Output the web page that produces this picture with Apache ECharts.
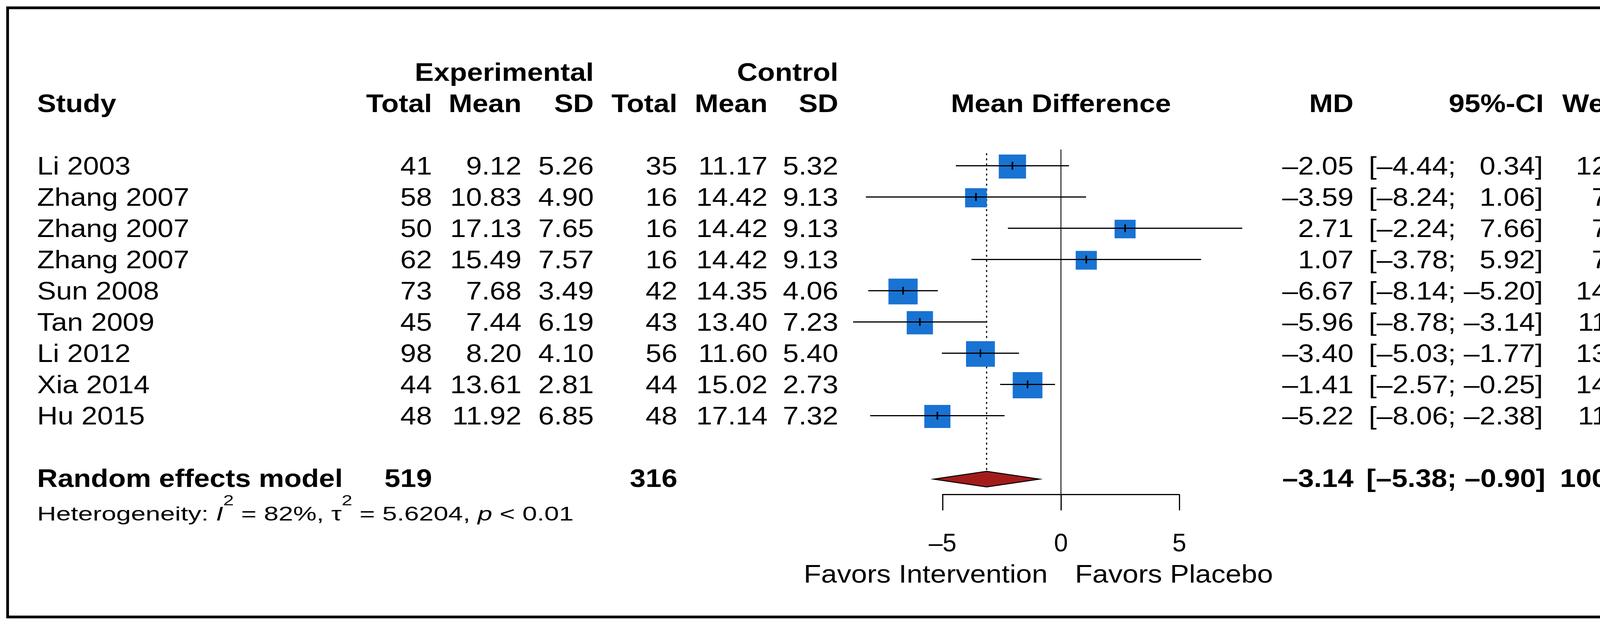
<!DOCTYPE html>
<html>
<head>
<meta charset="utf-8">
<script src="https://cdn.jsdelivr.net/npm/echarts@6/dist/echarts.min.js"></script>
<style>
html,body{margin:0;padding:0;background:#fff;}
#c{width:4383px;height:1598px;}
</style>
</head>
<body>
<div id="c"></div>
<script>
// ---------------- data ----------------
const studies   = ['Li 2003','Zhang 2007','Zhang 2007','Zhang 2007','Sun 2008','Tan 2009','Li 2012','Xia 2014','Hu 2015'];
const expTotal  = [41, 58, 50, 62, 73, 45, 98, 44, 48];
const expMean   = [9.12, 10.83, 17.13, 15.49, 7.68, 7.44, 8.20, 13.61, 11.92];
const expSD     = [5.26, 4.90, 7.65, 7.57, 3.49, 6.19, 4.10, 2.81, 6.85];
const ctlTotal  = [35, 16, 16, 16, 42, 43, 56, 44, 48];
const ctlMean   = [11.17, 14.42, 14.42, 14.42, 14.35, 13.40, 11.60, 15.02, 17.14];
const ctlSD     = [5.32, 9.13, 9.13, 9.13, 4.06, 7.23, 5.40, 2.73, 7.32];
const md        = [-2.05, -3.59, 2.71, 1.07, -6.67, -5.96, -3.40, -1.41, -5.22];
const ciLow     = [-4.44, -8.24, -2.24, -3.78, -8.14, -8.78, -5.03, -2.57, -8.06];
const ciHigh    = [0.34, 1.06, 7.66, 5.92, -5.20, -3.14, -1.77, -0.25, -2.38];
const weight    = [12.3, 7.8, 7.3, 7.4, 14.1, 11.4, 13.8, 14.6, 11.3];
const pooledLabel  = 'Random effects model';
const pooledTotals = [519, 316];
const pooledMD     = -3.14;
const pooledCI     = [-5.38, -0.90];
const pooledWeight = 100.0;
const heterogeneity = { I2: '82%', tau2: '5.6204', p: '< 0.01' };
const xTicks = [-5, 0, 5];
const headerTop = ['Experimental', 'Control'];
const headerCols = ['Study', 'Total', 'Mean', 'SD', 'Total', 'Mean', 'SD', 'Mean Difference', 'MD', '95%-CI', 'Weight'];
const favorsLabels = ['Favors Intervention', 'Favors Placebo'];

// ---------------- layout / style ----------------
const FONT = '"Liberation Sans", Arial, Helvetica, sans-serif';
const SX = 1.14;           // horizontal stretch of the source picture
const SX_HET = 1.35;
const FS = 64;             // main font size
const DASH = '\u2013';
const BOX_COLOR = '#1873d3';
const DIAMOND_COLOR = '#a31c1c';
const BOX_W = 19.9, BOX_H = 17.6;   // px per sqrt(weight %)
const TEXT_DY = 4.5;
const COL = { study: 95, expTotal: 1106, expMean: 1335, expSD: 1520, ctlTotal: 1734, ctlMean: 1965,
              ctlSD: 2146, md: 3465, ci: 3727, ciHead: 3952, weight: 4241 };
const SUMMARY_ROW = 10, HET_ROW = 11, FAVORS_ROW = 13;

function fmt(v, d) { return (v < 0 ? DASH : '') + Math.abs(v).toFixed(d); }
function ciText(lo, hi) { return '[' + (lo < 0 ? '' : ' ') + fmt(lo, 2) + '; ' + (hi < 0 ? '' : '  ') + fmt(hi, 2) + ']'; }

const B = 'bold', N = 'normal';
// each row: row index + list of cells [x, text, align, weight]
const tableRows = [];
tableRows.push({ row: -3, cells: [[COL.expSD, headerTop[0], 'right', B], [COL.ctlSD, headerTop[1], 'right', B]] });
tableRows.push({ row: -2, cells: [
  [COL.study, headerCols[0], 'left', B], [COL.expTotal, headerCols[1], 'right', B], [COL.expMean, headerCols[2], 'right', B],
  [COL.expSD, headerCols[3], 'right', B], [COL.ctlTotal, headerCols[4], 'right', B], [COL.ctlMean, headerCols[5], 'right', B],
  [COL.ctlSD, headerCols[6], 'right', B], ['zero', headerCols[7], 'center', B], [COL.md, headerCols[8], 'right', B],
  [COL.ciHead, headerCols[9], 'right', B], [COL.weight, headerCols[10], 'right', B]] });
studies.forEach(function (s, i) {
  tableRows.push({ row: i, cells: [
    [COL.study, s, 'left', N], [COL.expTotal, String(expTotal[i]), 'right', N], [COL.expMean, expMean[i].toFixed(2), 'right', N],
    [COL.expSD, expSD[i].toFixed(2), 'right', N], [COL.ctlTotal, String(ctlTotal[i]), 'right', N], [COL.ctlMean, ctlMean[i].toFixed(2), 'right', N],
    [COL.ctlSD, ctlSD[i].toFixed(2), 'right', N], [COL.md, fmt(md[i], 2), 'right', N], [COL.ci, ciText(ciLow[i], ciHigh[i]), 'center', N],
    [COL.weight, weight[i].toFixed(1) + '%', 'right', N]] });
});
tableRows.push({ row: SUMMARY_ROW, cells: [
  [COL.study, pooledLabel, 'left', B], [COL.expTotal, String(pooledTotals[0]), 'right', B], [COL.ctlTotal, String(pooledTotals[1]), 'right', B],
  [COL.md, fmt(pooledMD, 2), 'right', B], [COL.ci, ciText(pooledCI[0], pooledCI[1]), 'center', B], [COL.weight, pooledWeight.toFixed(1) + '%', 'right', B]] });
tableRows.push({ row: FAVORS_ROW, dy: 5, cells: [['zeroL', favorsLabels[0], 'right', N], ['zeroR', favorsLabels[1], 'left', N]] });
tableRows.push({ row: HET_ROW, het: true, cells: [] });

function txt(x, y, text, align, fw) {
  return { type: 'text', x: x, y: y, scaleX: SX, scaleY: 1,
    style: { text: text, fill: '#000', fontSize: FS, fontFamily: FONT, fontWeight: fw, align: align, verticalAlign: 'middle' } };
}

const chart = echarts.init(document.getElementById('c'), null, { renderer: 'canvas' });

const GRID_TOP = 24.5, GRID_H = 1241.5; // rows are 80px apart; row 0 sits at y = 424.5
const option = {
  animation: false,
  backgroundColor: '#fff',
  grid: { left: 2413, top: GRID_TOP, width: 606, height: GRID_H, containLabel: false },
  xAxis: {
    type: 'value', min: xTicks[0], max: xTicks[xTicks.length - 1], interval: 5,
    axisLine: { show: true, onZero: false, lineStyle: { color: '#000', width: 3 } },
    axisTick: { show: true, length: 41, lineStyle: { color: '#000', width: 3 } },
    axisLabel: { show: true, fontSize: FS, fontFamily: FONT, color: '#000', margin: 96,
      formatter: function (v) { return v < 0 ? DASH + Math.abs(v) : String(v); } },
    splitLine: { show: false }
  },
  yAxis: {
    type: 'value', inverse: true, min: -5, max: -5 + GRID_H / 80, show: false,
    splitLine: { show: false }
  },
  series: [
    { // line of no effect
      type: 'line', data: [[0, -0.52], [0, 10.52]], symbol: 'none', silent: true, z: 1,
      lineStyle: { color: '#3a3a3a', width: 3 }
    },
    { // pooled estimate dashed line
      type: 'line', data: [[pooledMD, -0.4], [pooledMD, 9.75]], symbol: 'none', silent: true, z: 1,
      lineStyle: { color: '#000', width: 3, type: [5, 8] }
    },
    { // study boxes + CIs
      type: 'custom', clip: false, z: 3,
      data: md.map(function (m, i) { return [m, i, ciLow[i], ciHigh[i], weight[i]]; }),
      renderItem: function (params, api) {
        const r = api.value(1);
        const c = api.coord([api.value(0), r]);
        const l = api.coord([api.value(2), r]);
        const h = api.coord([api.value(3), r]);
        const s = Math.sqrt(api.value(4));
        const bw = BOX_W * s, bh = BOX_H * s;
        return { type: 'group', children: [
          { type: 'rect', shape: { x: c[0] - bw / 2, y: c[1] - bh / 2 + 2, width: bw, height: bh }, style: { fill: BOX_COLOR } },
          { type: 'line', shape: { x1: l[0], y1: l[1], x2: h[0], y2: h[1] }, style: { stroke: '#000', lineWidth: 3 } },
          { type: 'line', shape: { x1: c[0], y1: c[1] - 10, x2: c[0], y2: c[1] + 10 }, style: { stroke: '#000', lineWidth: 4 } }
        ] };
      }
    },
    { // pooled diamond
      type: 'custom', clip: false, z: 3,
      data: [[pooledMD, SUMMARY_ROW + 0.03, pooledCI[0], pooledCI[1]]],
      renderItem: function (params, api) {
        const r = api.value(1), m = api.value(0);
        const top = api.coord([m, r - 0.25]), bot = api.coord([m, r + 0.25]);
        const l = api.coord([api.value(2), r]), h = api.coord([api.value(3), r]);
        return { type: 'polygon', shape: { points: [l, top, h, bot] },
          style: { fill: DIAMOND_COLOR, stroke: '#000', lineWidth: 2.5 } };
      }
    },
    { // table text
      type: 'custom', clip: false, z: 5, silent: true,
      data: tableRows.map(function (t) { return [0, t.row]; }),
      renderItem: function (params, api) {
        const t = tableRows[params.dataIndex];
        const zeroX = api.coord([0, t.row])[0];
        const y = api.coord([0, t.row])[1] + TEXT_DY + (t.dy || 0);
        if (t.het) {
          return { type: 'text', x: COL.study, y: y + 10, scaleX: SX_HET, scaleY: 1,
            style: {
              text: 'Heterogeneity: {it|I}{sup|2} = ' + heterogeneity.I2 + ', \u03c4{sup|2} = ' + heterogeneity.tau2 + ', {it|p} ' + heterogeneity.p,
              fill: '#000', fontSize: 50, fontFamily: FONT, align: 'left', verticalAlign: 'middle', lineHeight: 105,
              rich: {
                it: { fontStyle: 'italic', fontSize: 50, fontFamily: FONT, fill: '#000' },
                sup: { fontSize: 36, fontFamily: FONT, verticalAlign: 'top', fill: '#000' }
              }
            } };
        }
        const children = t.cells.map(function (c) {
          let x = c[0];
          if (x === 'zero') x = zeroX;
          else if (x === 'zeroL') x = zeroX - 34;
          else if (x === 'zeroR') x = zeroX + 36;
          return txt(x, y, c[1], c[2], c[3]);
        });
        return { type: 'group', children: children };
      }
    }
  ],
  graphic: [
    { type: 'rect', shape: { x: 19.5, y: 20, width: 4344, height: 1560 },
      style: { fill: 'none', stroke: '#000', lineWidth: 7 }, z: 10, silent: true }
  ]
};
chart.setOption(option);
</script>
</body>
</html>
